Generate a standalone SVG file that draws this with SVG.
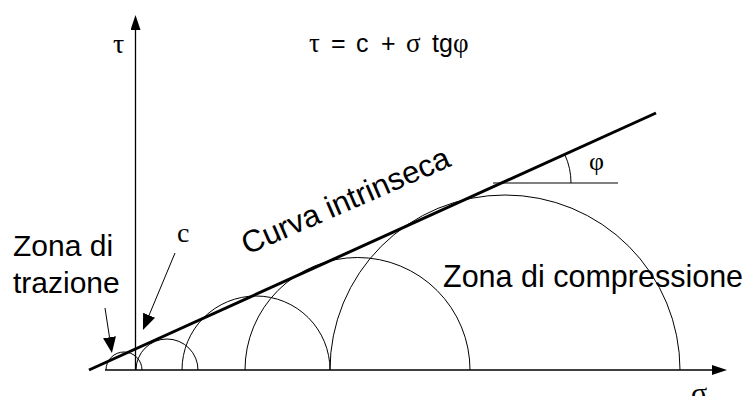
<svg xmlns="http://www.w3.org/2000/svg" width="750" height="396" viewBox="0 0 750 396">
<defs>
<style>
.ax{stroke:#000;stroke-width:1.3;fill:none}
.thin{stroke:#000;stroke-width:1;fill:none}
.env{stroke:#000;stroke-width:3;fill:none;stroke-linecap:butt}
.sans{font-family:"Liberation Sans",Arial,sans-serif;fill:#000}
.serif{font-family:"Liberation Serif","Times New Roman",serif;fill:#000}
</style>
<marker id="axhead" markerUnits="userSpaceOnUse" viewBox="0 0 15 10" markerWidth="15" markerHeight="10" refX="0" refY="5" orient="auto"><path d="M0,0 L15,5 L0,10 Z" fill="#000"/></marker>
<marker id="lblhead" markerUnits="userSpaceOnUse" viewBox="0 0 16 13" markerWidth="16" markerHeight="13" refX="0" refY="6.5" orient="auto"><path d="M0,0 L16,6.5 L0,13 Z" fill="#000"/></marker>
</defs>
<rect width="750" height="396" fill="#fff"/>

<g id="axes">
<line class="ax" x1="105" y1="370" x2="712" y2="370" marker-end="url(#axhead)"/>
<line class="ax" x1="135.5" y1="370" x2="135.5" y2="30" marker-end="url(#axhead)"/>
<text class="serif" x="113" y="53" font-size="28">τ</text>
<text class="serif" x="691" y="403" font-size="30">σ</text>
</g>

<g id="formula">
<text class="sans" y="52" font-size="25"><tspan class="serif" x="309" font-size="27">τ</tspan><tspan x="331">=</tspan><tspan x="356">c</tspan><tspan x="381">+</tspan><tspan class="serif" x="406" font-size="27">σ</tspan><tspan x="432">tg</tspan><tspan class="serif" x="453" font-size="27">φ</tspan></text>
</g>

<g id="circles">
<path class="thin" d="M106,370 A18,18 0 0 1 142,370"/>
<path class="thin" d="M136,370 A31,31 0 0 1 198,370"/>
<path class="thin" d="M182,370 A74,74 0 0 1 330,370"/>
<path class="thin" d="M245,370 A112.5,112.5 0 0 1 470,370"/>
<path class="thin" d="M330,370 A175,175 0 0 1 680,370"/>
</g>

<g id="curva-intrinseca">
<line class="env" x1="89" y1="370" x2="656" y2="113"/>
<text class="sans" transform="translate(247,255) rotate(-23.5)" font-size="31">Curva intrinseca</text>
</g>

<g id="angle-phi">
<line class="thin" x1="493" y1="183" x2="618" y2="183"/>
<path class="thin" d="M571,183 A68,68 0 0 0 565,155"/>
<text class="serif" x="589" y="170" font-size="26">φ</text>
</g>

<g id="zona-compressione">
<text class="sans" x="443" y="287" font-size="30.5">Zona di compressione</text>
</g>

<g id="zona-trazione">
<text class="sans" x="13" y="256" font-size="30">Zona di</text>
<text class="sans" x="13" y="293" font-size="30">trazione</text>
</g>

<g id="label-c">
<text class="serif" x="177" y="242" font-size="28">c</text>
</g>

<g id="connectors">
<line class="thin" x1="105" y1="308" x2="109.5" y2="337.2" marker-end="url(#lblhead)"/>
<line class="thin" x1="175" y1="253" x2="149.1" y2="315.2" marker-end="url(#lblhead)"/>
</g>
</svg>
